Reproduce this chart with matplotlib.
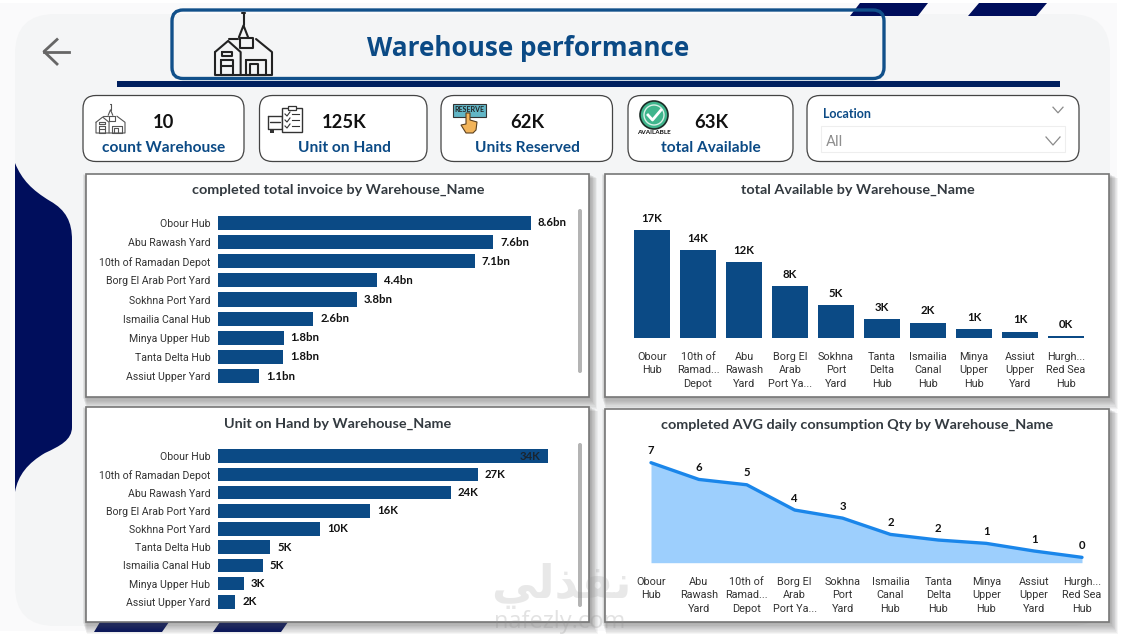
import matplotlib
matplotlib.use('Agg')
import matplotlib.pyplot as plt
from matplotlib.patches import FancyBboxPatch, Polygon, PathPatch, Circle, Rectangle
from matplotlib.path import Path

W, H = 1121, 635

NAVY = '#0b4a85'
DARK = '#000e5c'
TITLE_GREY = '#333a40'
LABEL_FONT = 'Roboto'
HEAD_FONT = 'Open Sans'
BOLD_FONT = 'Lato'

# data
invoice_names = ['Obour Hub', 'Abu Rawash Yard', '10th of Ramadan Depot', 'Borg El Arab Port Yard',
                 'Sokhna Port Yard', 'Ismailia Canal Hub', 'Minya Upper Hub', 'Tanta Delta Hub', 'Assiut Upper Yard']
invoice_values = [8.6, 7.56, 7.05, 4.36, 3.82, 2.62, 1.8, 1.78, 1.13]
invoice_labels = ['8.6bn', '7.6bn', '7.1bn', '4.4bn', '3.8bn', '2.6bn', '1.8bn', '1.8bn', '1.1bn']

hand_names = ['Obour Hub', '10th of Ramadan Depot', 'Abu Rawash Yard', 'Borg El Arab Port Yard',
              'Sokhna Port Yard', 'Tanta Delta Hub', 'Ismailia Canal Hub', 'Minya Upper Hub', 'Assiut Upper Yard']
hand_values = [34, 26.8, 24, 15.7, 10.5, 5.4, 4.6, 2.65, 1.8]
hand_labels = ['34K', '27K', '24K', '16K', '10K', '5K', '5K', '3K', '2K']

avail_names = ['Obour\nHub', '10th of\nRamad...\nDepot', 'Abu\nRawash\nYard', 'Borg El\nArab\nPort Ya...',
               'Sokhna\nPort\nYard', 'Tanta\nDelta\nHub', 'Ismailia\nCanal\nHub', 'Minya\nUpper\nHub',
               'Assiut\nUpper\nYard', 'Hurgh...\nRed Sea\nHub']
avail_values = [17, 13.84, 11.95, 8.1, 5.16, 2.95, 2.4, 1.3, 0.95, 0.26]
avail_labels = ['17K', '14K', '12K', '8K', '5K', '3K', '2K', '1K', '1K', '0K']

cons_names = ['Obour\nHub', 'Abu\nRawash\nYard', '10th of\nRamad...\nDepot', 'Borg El\nArab\nPort Ya...',
              'Sokhna\nPort\nYard', 'Ismailia\nCanal\nHub', 'Tanta\nDelta\nHub', 'Minya\nUpper\nHub',
              'Assiut\nUpper\nYard', 'Hurgh...\nRed Sea\nHub']
cons_values = [6.93, 5.77, 5.4, 3.65, 3.09, 1.96, 1.57, 1.34, 0.81, 0.37]
cons_labels = ['7', '6', '5', '4', '3', '2', '2', '1', '1', '0']

kpi_values = ['10', '125K', '62K', '63K']
kpi_names = ['count Warehouse', 'Unit on Hand', 'Units Reserved', 'total Available']


fig = plt.figure(figsize=(W / 100, H / 100), dpi=100, facecolor='white')


def px_axes(left, top, right, bottom, z=2):
    ax = fig.add_axes([left / W, 1 - bottom / H, (right - left) / W, (bottom - top) / H], zorder=z)
    ax.patch.set_visible(False)
    for s in ax.spines.values():
        s.set_visible(False)
    return ax


bg = fig.add_axes([0, 0, 1, 1], zorder=0)
bg.set_xlim(0, W)
bg.set_ylim(H, 0)
bg.axis('off')


def round_box(x0, y0, x1, y1, r, fc='white', ec='none', lw=1.0, ax=bg, z=1):
    p = FancyBboxPatch((x0, y0), x1 - x0, y1 - y0, boxstyle='round,pad=0,rounding_size=%s' % r,
                       fc=fc, ec=ec, lw=lw, zorder=z)
    ax.add_patch(p)


def seg(xs, ys, x0, y0, w, h, color='#222222', lw=1.0, z=5):
    bg.plot([x0 + a * w for a in xs], [y0 + b * h for b in ys], color=color, lw=lw, zorder=z,
            solid_capstyle='round', solid_joinstyle='round')


def warehouse_icon(x0, y0, w, h, color='#222222', lw=1.5):
    # crane hook and crate
    seg([.47, .53], [0, 0], x0, y0, w, h, color, lw)
    seg([.5, .5], [0, .2], x0, y0, w, h, color, lw)
    seg([.42, .5, .58], [.39, .2, .39], x0, y0, w, h, color, lw)
    seg([.44, .67, .67, .44, .44], [.4, .4, .57, .57, .4], x0, y0, w, h, color, lw)
    # roofs and walls
    seg([0, .23, .45, .45], [.63, .45, .63, 1], x0, y0, w, h, color, lw)
    seg([.25, .4], [.42, .42], x0, y0, w, h, color, lw)
    seg([.72, 1, 1, 0, 0], [.42, .63, 1, 1, .63], x0, y0, w, h, color, lw)
    # doors
    seg([.1, .32, .32, .1, .1], [.75, .75, 1, 1, .75], x0, y0, w, h, color, lw)
    seg([.1, .32], [.85, .85], x0, y0, w, h, color, lw)
    seg([.12, .3, .3, .12, .12], [.63, .63, .7, .7, .63], x0, y0, w, h, color, lw)
    seg([.55, .9, .9, .55, .55], [.75, .75, 1, 1, .75], x0, y0, w, h, color, lw)
    seg([.62, .62, .75, .75], [1, .82, .82, 1], x0, y0, w, h, color, lw)


def chevron(xc, yc, hw, hh, color='#8a8a8a'):
    bg.plot([xc - hw, xc, xc + hw], [yc - hh, yc + hh, yc - hh], color=color, lw=0.9, zorder=5)


# page background
bg.add_patch(Rectangle((0, 3), 1117, 628, fc='#fafafb', ec='none', zorder=0))
round_box(15, 14, 1110, 626, 40, fc='#f4f5f6', z=0.5)

# navy decoration on the left
verts = [(15, 163), (22, 180), (32, 190), (50, 201), (66, 210), (72, 222), (72, 240),
         (72, 427), (72, 440), (60, 446), (45, 453), (28, 463), (18, 475), (15, 492), (15, 163)]
codes = [Path.MOVETO, Path.CURVE4, Path.CURVE4, Path.CURVE4, Path.CURVE4, Path.CURVE4, Path.CURVE4,
         Path.LINETO, Path.CURVE4, Path.CURVE4, Path.CURVE4, Path.CURVE4, Path.CURVE4, Path.CURVE4, Path.CLOSEPOLY]
bg.add_patch(PathPatch(Path(verts, codes), fc=DARK, ec='none', zorder=1))

# slanted stripes
for pts in [[(860, 3), (928, 3), (918, 16), (850, 16)],
            [(979, 3), (1047, 3), (1036, 16), (968, 16)],
            [(100, 622), (169, 622), (162, 632), (94, 632)],
            [(220, 622), (288, 622), (281, 632), (213, 632)]]:
    bg.add_patch(Polygon(pts, closed=True, fc=DARK, ec='none', zorder=1))

# back arrow
bg.plot([69, 44], [51.5, 51.5], color='#666666', lw=2, zorder=3)
bg.plot([57, 44, 57], [39.5, 51.5, 64], color='#666666', lw=2, zorder=3)

# header
round_box(172, 10, 884, 78.5, 11, fc='none', ec='#11508a', lw=2.4, z=3)
bg.add_patch(Rectangle((117, 81), 943, 6, fc='#00205f', ec='none', zorder=3))
bg.text(528, 48, 'Warehouse performance', fontsize=18.8, fontweight='bold', family=HEAD_FONT,
        color=NAVY, ha='center', va='center', zorder=5)
warehouse_icon(215, 13, 57, 62)

# kpi cards
cards = [(83, 244), (259.5, 427), (441, 612.5), (628, 793)]
kpi_x = [164, 344, 527, 711]
for (x0, x1), xc, val, name in zip(cards, kpi_x, kpi_values, kpi_names):
    round_box(x0, 95.5, x1, 161.5, 13, fc='white', ec='#444444', lw=0.9, z=2)
    bg.text(xc, 122, val, fontsize=13.2, fontweight='bold', family=BOLD_FONT, color='#111111',
            ha='center', va='center', zorder=5)
    bg.text(xc, 147.5, name, fontsize=11.2, fontweight='bold', family=BOLD_FONT, color=NAVY,
            ha='center', va='center', zorder=5)

warehouse_icon(96, 104, 29, 29, color='#555555', lw=0.8)

# truck + checklist icon
seg([0, .42, .42, 0, 0], [.38, .38, .9, .9, .38], 268, 106, 34, 26, '#333333', 1.0)
seg([.06, .34], [.62, .62], 268, 106, 34, 26, '#333333', 1.0)
bg.add_patch(Rectangle((270, 129), 4, 4, fc='#333333', ec='none', zorder=6))
bg.add_patch(Rectangle((282, 108), 20, 24, fc='white', ec='#333333', lw=1.0, zorder=6))
bg.add_patch(Rectangle((288, 106), 8, 4, fc='white', ec='#333333', lw=0.9, zorder=7))
for yy in [114, 120, 126]:
    bg.plot([285, 287, 290], [yy, yy + 2, yy - 2], color='#333333', lw=0.8, zorder=7)
    bg.plot([292, 299], [yy, yy], color='#333333', lw=0.8, zorder=7)

# reserve icon
bg.add_patch(Rectangle((453, 104), 33, 12.5, fc='#62b6c6', ec='#333333', lw=0.8, zorder=5))
bg.text(469.5, 110, 'RESERVE', fontsize=5, fontweight='bold', family=BOLD_FONT, color='#222222',
        ha='center', va='center', zorder=6)
hand = [(466, 113), (470, 113), (470, 120), (477, 122), (476, 130), (473, 133), (466, 133), (461, 125), (466, 124)]
bg.add_patch(Polygon(hand, closed=True, fc='#f2b45a', ec='#5a4020', lw=0.8, zorder=7))

# available icon
bg.add_patch(Circle((654, 115), 14, fc='#3fb58c', ec='#1c2b26', lw=1.2, zorder=5))
bg.add_patch(Circle((654, 115), 10, fc='none', ec='#d8f0e6', lw=1.0, zorder=6))
bg.plot([648, 652.5, 661], [115, 120, 110], color='white', lw=2, zorder=7)
bg.text(654, 133, 'AVAILABLE', fontsize=4.6, fontweight='bold', family=BOLD_FONT, color='#111111',
        ha='center', va='center', zorder=6)

# slicer
round_box(807, 95.5, 1079, 161.5, 13, fc='white', ec='#444444', lw=0.9, z=2)
bg.text(823, 113.5, 'Location', fontsize=9, fontweight='bold', family=BOLD_FONT, color=NAVY,
        ha='left', va='center', zorder=5)
chevron(1058, 110, 5, 2.8)
bg.add_patch(Rectangle((821, 125.5), 244, 26.5, fc='white', ec='#eeeeee', lw=0.8, zorder=4))
bg.text(826, 142, 'All', fontsize=11, family=LABEL_FONT, color='#8f8f8f', ha='left', va='center', zorder=5)
chevron(1053, 141, 7, 4)


def panel(x0, y0, x1, y1, title, title_x, title_y):
    # soft drop shadow
    for i in range(1, 11):
        bg.add_patch(Rectangle((x0 - 3 + i * 0.4, y0 + i * 0.4), x1 - x0 + 4 + i * 0.35, y1 - y0 + i * 0.8,
                               fc='#5a5a5a', ec='none', alpha=0.06, zorder=1.5))
    bg.add_patch(Rectangle((x0, y0), x1 - x0, y1 - y0, fc='white', ec='#777777', lw=1.2, zorder=2))
    bg.text(title_x, title_y, title, fontsize=10.4, fontweight='bold', family=BOLD_FONT, color=TITLE_GREY,
            ha='center', va='center', zorder=5)


panel(85.5, 174, 588.5, 397, 'completed total invoice by Warehouse_Name', 338, 190)
panel(604.5, 174, 1109, 397, 'total Available by Warehouse_Name', 857.5, 190)
panel(85.5, 407, 589, 622, 'Unit on Hand by Warehouse_Name', 338, 424)
panel(605, 409, 1109, 622, 'completed AVG daily consumption Qty by Warehouse_Name', 857.5, 425)

# scroll bars
round_box(578, 209, 582, 373, 2, fc='#b4b4b4', z=4)
round_box(578, 443, 582, 607, 2, fc='#b4b4b4', z=4)


def hbar_chart(ax, names, values, labels, px_per_unit, width_px, inside_first=False):
    ypos = list(range(len(names)))
    ax.barh(ypos, values, height=0.74, color=NAVY)
    ax.set_xlim(0, width_px / px_per_unit)
    ax.set_ylim(len(names) - 0.5, -0.5)
    ax.set_yticks(ypos)
    ax.set_yticklabels(names, fontsize=7.6, family=LABEL_FONT, color='#333333')
    ax.set_xticks([])
    ax.tick_params(axis='y', length=0, pad=5.5)
    for i, (v, lab) in enumerate(zip(values, labels)):
        if inside_first and i == 0:
            ax.annotate(lab, (v, i), xytext=(-5, 0), textcoords='offset points', ha='right', va='center',
                        fontsize=8.2, fontweight='bold', family=BOLD_FONT, color='#1a2530')
        else:
            ax.annotate(lab, (v, i), xytext=(5, 0), textcoords='offset points', ha='left', va='center',
                        fontsize=8.2, fontweight='bold', family=BOLD_FONT, color='#111111')


ax1 = px_axes(218, 213.4, 575, 385.6)
hbar_chart(ax1, invoice_names, invoice_values, invoice_labels, 36.4, 357)

ax3 = px_axes(218, 446.9, 575, 611.1)
hbar_chart(ax3, hand_names, hand_values, hand_labels, 9.7, 357, inside_first=True)

# total available columns
ax2 = px_axes(629, 210, 1089, 337.7)
xpos = list(range(len(avail_names)))
ax2.bar(xpos, avail_values, width=0.78, color=NAVY)
ax2.set_xlim(-0.5, 9.5)
ax2.set_ylim(0, 127.7 / 6.33)
ax2.set_yticks([])
ax2.set_xticks(xpos)
ax2.set_xticklabels(avail_names, fontsize=7.8, family=LABEL_FONT, color='#333333', linespacing=1.45)
ax2.tick_params(axis='x', length=0, pad=10)
for x, v, lab in zip(xpos, avail_values, avail_labels):
    ax2.annotate(lab, (x, v), xytext=(0, 8.5), textcoords='offset points', ha='center', va='center',
                 fontsize=8.2, fontweight='bold', family=BOLD_FONT, color='#111111')

# consumption area
ax4 = px_axes(651, 440, 1082, 562.7)
xpos = list(range(len(cons_names)))
ax4.fill_between(xpos, cons_values, 0, color='#9dcffd', lw=0)
ax4.plot(xpos, cons_values, color='#1a86ea', lw=2.4, clip_on=False, solid_capstyle='round')
ax4.set_xlim(0, 9)
ax4.set_ylim(0, 122.7 / 14.43)
ax4.set_yticks([])
ax4.set_xticks(xpos)
ax4.set_xticklabels(cons_names, fontsize=7.8, family=LABEL_FONT, color='#333333', linespacing=1.45)
ax4.tick_params(axis='x', length=0, pad=10)
for x, v, lab in zip(xpos, cons_values, cons_labels):
    ax4.annotate(lab, (x, v), xytext=(0, 8.5), textcoords='offset points', ha='center', va='center',
                 fontsize=8.2, fontweight='bold', family=BOLD_FONT, color='#111111')

# watermark, sits on top of everything
top = fig.add_axes([0, 0, 1, 1], zorder=10)
top.set_xlim(0, W)
top.set_ylim(H, 0)
top.axis('off')
top.patch.set_visible(False)
top.text(561, 586, '\ufef2\ufedf\ufeac\ufed4\ufee7', fontsize=33, fontweight='bold',
         family='DejaVu Sans', color='#8f8f8f', alpha=0.2, ha='center', va='center')
top.text(560, 622, 'nafezly.com', fontsize=17, family=HEAD_FONT, color='#8f8f8f', alpha=0.25,
         ha='center', va='center')

fig.savefig('out.png', dpi=100, facecolor='white')
